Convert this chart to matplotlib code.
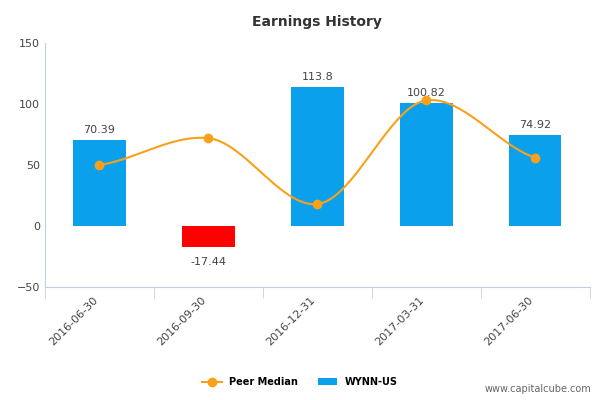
import numpy as np
import matplotlib.pyplot as plt

categories = ['2016-06-30', '2016-09-30', '2016-12-31', '2017-03-31', '2017-06-30']
wynn = [70.39, -17.44, 113.8, 100.82, 74.92]
peer = [50, 72, 18, 103, 56]
yticks = [-50, 0, 50, 100, 150]

fig = plt.figure(figsize=(6, 4), dpi=100)
ax = fig.add_axes([0.075, 0.2825, 0.908, 0.61])
x = np.arange(len(categories))
colors = ['#0aa0ec' if v >= 0 else '#ff0000' for v in wynn]
ax.bar(x, wynn, width=0.48, color=colors, zorder=2, label='WYNN-US')
for xi, v in zip(x, wynn):
    ax.text(xi, v + (4 if v >= 0 else -8), f'{v:g}' if v != 113.8 else '113.8',
            ha='center', va='bottom' if v >= 0 else 'top', fontsize=8, color='#444444')

# smooth curve through peer medians (cubic hermite, flat-ish tangents)
p = np.array(peer, dtype=float)
m = np.gradient(p) * 0.6
xs, ys = [], []
for i in range(len(p) - 1):
    t = np.linspace(0, 1, 40)
    h00 = 2*t**3 - 3*t**2 + 1; h10 = t**3 - 2*t**2 + t
    h01 = -2*t**3 + 3*t**2; h11 = t**3 - t**2
    xs.extend(i + t); ys.extend(h00*p[i] + h10*m[i] + h01*p[i+1] + h11*m[i+1])
ax.plot(xs, ys, color='#f9a11b', lw=1.5, zorder=3)
ax.plot(x, p, 'o', color='#f9a11b', ms=6, zorder=4)
ax.plot([], [], '-o', color='#f9a11b', label='Peer Median')

ax.set_xlim(-0.5, len(categories) - 0.5)
ax.set_ylim(-50, 150)
ax.set_yticks(yticks)
ax.set_xticks(x)
ax.set_xticklabels(categories, rotation=45, ha='right', fontsize=8, color='#444444')
ax.set_xticks(np.arange(-0.5, len(categories)), minor=True)
ax.tick_params(axis='x', which='major', length=0, pad=6)
ax.tick_params(axis='x', which='minor', length=8, color='#c0d0e0')
ax.tick_params(axis='y', length=0, labelsize=8, labelcolor='#444444')
for s in ['top', 'right']:
    ax.spines[s].set_visible(False)
ax.spines['left'].set_color('#c0d0e0')
ax.spines['bottom'].set_color('#c0d0e0')
ax.set_title('Earnings History', fontsize=10, fontweight='bold', color='#333333', pad=12)
leg = fig.legend(loc='lower center', bbox_to_anchor=(0.5, 0.01), ncol=2, frameon=False,
                 prop={'size': 7, 'weight': 'bold'})
fig.text(0.985, 0.02, 'www.capitalcube.com', ha='right', fontsize=7, color='#666666')
fig.savefig('out.png')
